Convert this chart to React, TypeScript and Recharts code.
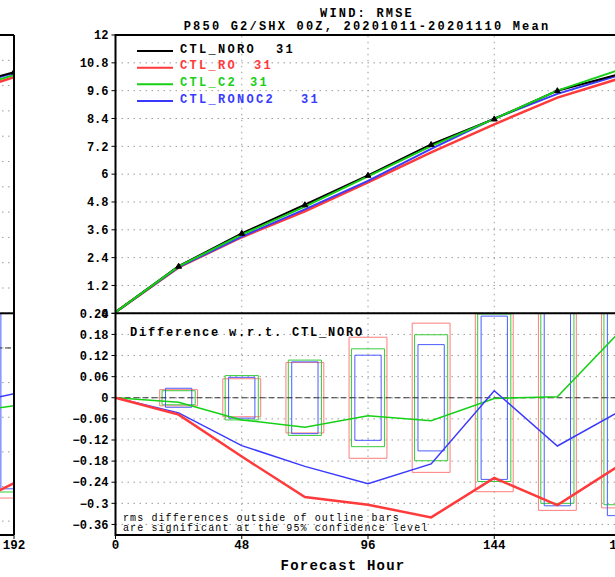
import React from 'react';
import {
  LineChart,
  ComposedChart,
  Line,
  XAxis,
  YAxis,
  CartesianGrid,
  ReferenceArea,
  ReferenceLine,
} from 'recharts';

// ---------- data ----------
const hours = [0, 24, 48, 72, 96, 120, 144, 168, 192];
const rmseNoro = [0.05, 2.03, 3.45, 4.68, 5.95, 7.28, 8.38, 9.6, 10.33];
const rmseRo = [0.05, 1.98, 3.28, 4.4, 5.65, 6.94, 8.15, 9.3, 10.14];
const rmseC2 = [0.05, 2.02, 3.39, 4.6, 5.9, 7.21, 8.38, 9.6, 10.52];
const rmseRonoc2 = [0.05, 1.99, 3.31, 4.48, 5.71, 7.09, 8.4, 9.46, 10.29];

const diffRo = [0, -0.048, -0.167, -0.282, -0.304, -0.34, -0.228, -0.305, -0.19];
const diffC2 = [0, -0.013, -0.063, -0.084, -0.051, -0.065, -0.002, 0.003, 0.19];
const diffRonoc2 = [0, -0.043, -0.136, -0.195, -0.244, -0.188, 0.02, -0.137, -0.037];

const barHours = [24, 48, 72, 96, 120, 144, 168, 192];
const sigRo = [0.023, 0.054, 0.1, 0.172, 0.212, 0.267, 0.32, 0.313];
const sigC2 = [0.02, 0.063, 0.107, 0.139, 0.179, 0.238, 0.3, 0.304];
const sigRonoc2 = [0.027, 0.058, 0.102, 0.121, 0.151, 0.232, 0.307, 0.335];

// neighbouring (cut-off) panel on the left
const prevHours = [144, 168, 192];
const prevNoro = [9.75, 10.6, 11.44];
const prevRo = [9.3, 10.25, 11.2];
const prevC2 = [9.5, 10.4, 11.3];
const prevRonoc2 = [9.7, 10.55, 11.4];
const prevDiffRo = [-0.66, -0.577, -0.468];
const prevDiffC2 = [-0.26, -0.231, -0.2];
const prevDiffRonoc2 = [-0.25, -0.206, -0.159];
const prevBarHours = [192];
const prevSigRo = [0.52];
const prevSigC2 = [0.499];
const prevSigRonoc2 = [0.488];

const topTicks = [0, 1.2, 2.4, 3.6, 4.8, 6, 7.2, 8.4, 9.6, 10.8, 12];
const diffTicks = [-0.36, -0.3, -0.24, -0.18, -0.12, -0.06, 0, 0.06, 0.12, 0.18, 0.24];
const xTicks = [0, 48, 96, 144, 192];
const prevTopTicks = [0, 1.2, 2.4, 3.6, 4.8, 6, 7.2, 8.4, 9.6, 10.8, 12, 13.2];
const prevDiffTicks = [-0.6, -0.54, -0.48, -0.42, -0.36, -0.3, -0.24, -0.18, -0.12, -0.06, 0, 0.06, 0.12];
const prevXTicks = [144, 192];

const seriesNames = ['CTL_NORO', 'CTL_RO', 'CTL_C2', 'CTL_RONOC2'];
const seriesCounts = ['31', '31', '31', '31'];

// ---------- tables built from the arrays ----------
const topData = hours.map((h, i) => ({
  h,
  noro: rmseNoro[i],
  ro: rmseRo[i],
  c2: rmseC2[i],
  ronoc2: rmseRonoc2[i],
}));
const diffData = hours.map((h, i) => ({
  h,
  ro: diffRo[i],
  c2: diffC2[i],
  ronoc2: diffRonoc2[i],
}));
const prevTopData = prevHours.map((h, i) => ({
  h,
  noro: prevNoro[i],
  ro: prevRo[i],
  c2: prevC2[i],
  ronoc2: prevRonoc2[i],
}));
const prevDiffData = prevHours.map((h, i) => ({
  h,
  ro: prevDiffRo[i],
  c2: prevDiffC2[i],
  ronoc2: prevDiffRonoc2[i],
}));

// ---------- styles ----------
const FONT = "'Liberation Mono', 'DejaVu Sans Mono', monospace";
const C_BLACK = '#000000';
const C_RED = '#ff3a3a';
const C_GREEN = '#16d016';
const C_BLUE = '#3a3aff';
const B_RED = '#ff7d7d';
const B_GREEN = '#38cc38';
const B_BLUE = '#4a5cff';
const GRID = '#9c9c9c';
const HALF_RED = 7.2;
const HALF_GREEN = 6.3;
const HALF_BLUE = 5;

const yTick = { fontFamily: FONT, fontWeight: 700, fontSize: 12, fill: '#000' };
const xTick = { fontFamily: FONT, fontWeight: 700, fontSize: 12.5, fill: '#000' };
const fmt = (v: number) => String(v).replace('-', '\u2212');

const Marker = (p: any) => {
  const { cx, cy, index } = p;
  if (index === 0 || cx == null || cy == null) return <g key={`m-${index}`} />;
  return (
    <path
      key={`m-${index}`}
      d={`M${cx - 3},${cy + 2} L${cx},${cy - 3} L${cx + 3},${cy + 2} Z`}
      fill="#000"
      stroke="#000"
      strokeWidth={1}
    />
  );
};

const boxes = (
  hrs: number[],
  sig: number[],
  half: number,
  color: string,
  prefix: string
) =>
  hrs.map((h, i) => (
    <ReferenceArea
      key={`${prefix}-${i}`}
      x1={h - half}
      x2={h + half}
      y1={-sig[i]}
      y2={sig[i]}
      fill="none"
      fillOpacity={0}
      stroke={color}
      strokeWidth={1}
      ifOverflow="hidden"
    />
  ));

export default function App() {
  const legendY = [51, 67.7, 84.3, 101];
  const legendColors = [C_BLACK, C_RED, C_GREEN, C_BLUE];
  const countX = [276, 254, 250, 301];

  return (
    <div
      style={{
        position: 'absolute',
        left: 0,
        top: 0,
        width: 615,
        height: 577,
        overflow: 'hidden',
        background: '#fff',
      }}
    >
      {/* cut-off neighbouring panel: top */}
      <div style={{ position: 'absolute', left: -238, top: 0 }}>
        <LineChart width={292} height={320} data={prevTopData} margin={{ top: 35, right: 40, bottom: 6.7, left: 0 }}>
          <CartesianGrid vertical={false} stroke={GRID} strokeDasharray="1.5 4.5" />
          <XAxis dataKey="h" type="number" domain={[96, 192]} hide allowDataOverflow />
          <YAxis type="number" domain={[0, 13.2]} ticks={prevTopTicks} hide allowDataOverflow />
          <Line dataKey="ro" stroke={C_RED} strokeWidth={2.5} dot={false} isAnimationActive={false} />
          <Line dataKey="c2" stroke={C_GREEN} strokeWidth={2} dot={false} isAnimationActive={false} />
          <Line dataKey="ronoc2" stroke={C_BLUE} strokeWidth={2} dot={false} isAnimationActive={false} />
          <Line dataKey="noro" stroke={C_BLACK} strokeWidth={2} dot={Marker} isAnimationActive={false} />
        </LineChart>
      </div>
      {/* cut-off neighbouring panel: differences */}
      <div style={{ position: 'absolute', left: -238, top: 0 }}>
        <ComposedChart width={292} height={577} data={prevDiffData} margin={{ top: 313.3, right: 40, bottom: 12, left: 0 }}>
          <CartesianGrid vertical={false} stroke={GRID} strokeDasharray="1.5 4.5" />
          <XAxis
            dataKey="h"
            type="number"
            domain={[96, 192]}
            ticks={prevXTicks}
            interval={0}
            height={30}
            axisLine={false}
            tickSize={4}
            tickMargin={1}
            tickLine={{ stroke: '#000' }}
            tick={xTick}
            allowDataOverflow
          />
          <YAxis type="number" domain={[-0.648, 0.12]} ticks={prevDiffTicks} hide allowDataOverflow />
          {boxes(prevBarHours, prevSigRo, HALF_RED, B_RED, 'pr')}
          {boxes(prevBarHours, prevSigC2, HALF_GREEN, B_GREEN, 'pg')}
          {boxes(prevBarHours, prevSigRonoc2, HALF_BLUE, B_BLUE, 'pb')}
          <ReferenceLine y={0} stroke="#333" strokeDasharray="6 3" />
          <Line dataKey="c2" stroke={C_GREEN} strokeWidth={1.5} dot={false} isAnimationActive={false} />
          <Line dataKey="ronoc2" stroke={C_BLUE} strokeWidth={1.5} dot={false} isAnimationActive={false} />
          <Line dataKey="ro" stroke={C_RED} strokeWidth={2.5} dot={false} isAnimationActive={false} />
        </ComposedChart>
      </div>

      {/* main panel: RMSE */}
      <div style={{ position: 'absolute', left: 0, top: 0 }}>
        <LineChart width={660} height={320} data={topData} margin={{ top: 35, right: 39.5, bottom: 6.7, left: 0 }}>
          <CartesianGrid vertical={false} stroke={GRID} strokeDasharray="1.5 4.5" />
          <XAxis dataKey="h" type="number" domain={[0, 192]} hide allowDataOverflow />
          <YAxis
            type="number"
            domain={[0, 12]}
            ticks={topTicks}
            interval={0}
            width={115.5}
            axisLine={false}
            tickSize={4}
            tickMargin={3}
            tickLine={{ stroke: '#000' }}
            tick={yTick}
            tickFormatter={fmt}
            allowDataOverflow
          />
          {[48, 96, 144].map((x) => (
            <ReferenceLine key={`vt-${x}`} x={x} stroke={GRID} strokeDasharray="1.5 4.5" />
          ))}
          <Line dataKey="ro" stroke={C_RED} strokeWidth={2.5} dot={false} isAnimationActive={false} />
          <Line dataKey="ronoc2" stroke={C_BLUE} strokeWidth={2} dot={false} isAnimationActive={false} />
          <Line dataKey="noro" stroke={C_BLACK} strokeWidth={2} dot={Marker} isAnimationActive={false} />
          <Line dataKey="c2" stroke={C_GREEN} strokeWidth={2} dot={false} isAnimationActive={false} />
        </LineChart>
      </div>

      {/* main panel: differences */}
      <div style={{ position: 'absolute', left: 0, top: 0 }}>
        <ComposedChart width={660} height={577} data={diffData} margin={{ top: 313.3, right: 39.5, bottom: 12, left: 0 }}>
          <CartesianGrid vertical={false} stroke={GRID} strokeDasharray="1.5 4.5" />
          <XAxis
            dataKey="h"
            type="number"
            domain={[0, 192]}
            ticks={xTicks}
            interval={0}
            height={30}
            axisLine={false}
            tickSize={4}
            tickMargin={1}
            tickLine={{ stroke: '#000' }}
            tick={xTick}
            allowDataOverflow
          />
          <YAxis
            type="number"
            domain={[-0.39, 0.24]}
            ticks={diffTicks}
            interval={0}
            width={115.5}
            axisLine={false}
            tickSize={4}
            tickMargin={3}
            tickLine={{ stroke: '#000' }}
            tick={yTick}
            tickFormatter={fmt}
            allowDataOverflow
          />
          {[48, 96, 144].map((x) => (
            <ReferenceLine key={`vb-${x}`} x={x} stroke={GRID} strokeDasharray="1.5 4.5" />
          ))}
          {boxes(barHours, sigRo, HALF_RED, B_RED, 'r')}
          {boxes(barHours, sigC2, HALF_GREEN, B_GREEN, 'g')}
          {boxes(barHours, sigRonoc2, HALF_BLUE, B_BLUE, 'b')}
          <ReferenceLine y={0} stroke="#333" strokeDasharray="6 3" />
          <Line dataKey="c2" stroke={C_GREEN} strokeWidth={1.5} dot={false} isAnimationActive={false} />
          <Line dataKey="ronoc2" stroke={C_BLUE} strokeWidth={1.5} dot={false} isAnimationActive={false} />
          <Line dataKey="ro" stroke={C_RED} strokeWidth={2.5} dot={false} isAnimationActive={false} />
        </ComposedChart>
      </div>

      {/* frames, titles, legend, annotations */}
      <svg
        width={615}
        height={577}
        style={{ position: 'absolute', left: 0, top: 0, pointerEvents: 'none' }}
      >
        <g stroke="#000" strokeWidth={2} fill="none">
          <rect x={115.5} y={35} width={505} height={500} />
          <line x1={115.5} y1={313.3} x2={620.5} y2={313.3} />
          <line x1={-10} y1={35} x2={14} y2={35} />
          <line x1={-10} y1={313.3} x2={14} y2={313.3} />
          <line x1={-10} y1={535} x2={14} y2={535} />
          <line x1={14} y1={35} x2={14} y2={535} />
        </g>
        <g fontFamily={FONT} fontWeight={700} fill="#000">
          <text x={367} y={17} fontSize={12} letterSpacing={2.2} textAnchor="middle">
            WIND: RMSE
          </text>
          <text x={367} y={30} fontSize={12} letterSpacing={2.2} textAnchor="middle">
            P850 G2/SHX 00Z, 20201011-20201110 Mean
          </text>
        </g>
        {seriesNames.map((name, i) => (
          <g key={name}>
            <line
              x1={137}
              x2={173}
              y1={legendY[i]}
              y2={legendY[i]}
              stroke={legendColors[i]}
              strokeWidth={2}
            />
            <text
              x={180}
              y={legendY[i] + 1.5}
              fontFamily={FONT}
              fontWeight={700}
              fontSize={12}
              letterSpacing={2.3}
              fill={legendColors[i]}
            >
              {name}
            </text>
            <text
              x={countX[i]}
              y={legendY[i] + 1.5}
              fontFamily={FONT}
              fontWeight={700}
              fontSize={12}
              letterSpacing={2.3}
              fill={legendColors[i]}
            >
              {seriesCounts[i]}
            </text>
          </g>
        ))}
        <text x={130} y={336} fontFamily={FONT} fontWeight={700} fontSize={12} letterSpacing={1.8} fill="#000">
          Difference w.r.t. CTL_NORO
        </text>
        <text x={123} y={520.5} fontFamily={FONT} fontSize={10} letterSpacing={1.1} fill="#000">
          rms differences outside of outline bars
        </text>
        <text x={123} y={531} fontFamily={FONT} fontSize={10} letterSpacing={1.1} fill="#000">
          are significant at the 95% confidence level
        </text>
        <text
          x={343}
          y={570}
          fontFamily={FONT}
          fontWeight={700}
          fontSize={14}
          letterSpacing={1.2}
          textAnchor="middle"
          fill="#000"
        >
          Forecast Hour
        </text>
      </svg>
    </div>
  );
}
